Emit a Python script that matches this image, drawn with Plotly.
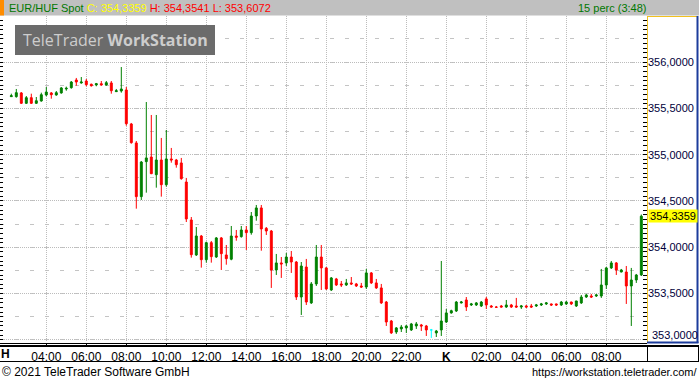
import plotly.graph_objects as go

# ---------------- data (EUR/HUF spot, 15-minute candles, Monday 02:15 -> Tuesday 09:45) -------------
bar_minutes = 15
first_bar_hour = 2.25          # Monday 02:15, hours counted from Monday 00:00

opens = [355.627, 355.627, 355.667, 355.555, 355.616, 355.555, 355.580, 355.645, 355.667, 355.645,
         355.667, 355.710, 355.724, 355.807, 355.775, 355.796, 355.761, 355.753, 355.767, 355.753,
         355.775, 355.681, 355.688, 355.699, 355.332, 355.127, 354.547, 354.925, 354.975, 354.784,
         354.943, 354.676, 354.954, 354.943, 354.911, 354.705, 354.295, 353.917, 354.122, 353.866,
         354.050, 353.895, 354.101, 353.917, 353.871, 354.122, 354.115, 354.187, 354.158, 354.338,
         354.425, 354.205, 354.176, 353.755, 353.831, 353.831, 353.895, 353.841, 353.463, 353.787,
         353.399, 353.604, 353.895, 353.777, 353.539, 353.658, 353.604, 353.593, 353.615, 353.604,
         353.582, 353.571, 353.723, 353.615, 353.561, 353.409, 353.204, 353.085, 353.118, 353.129,
         353.107, 353.150, 353.161, 353.150, 353.107, 353.075, 353.107, 353.193, 353.291, 353.312,
         353.399, 353.431, 353.377, 353.377, 353.366, 353.442, 353.366, 353.355, 353.366, 353.355,
         353.377, 353.366, 353.355, 353.366, 353.366, 353.366, 353.377, 353.388, 353.388, 353.388,
         353.377, 353.388, 353.409, 353.366, 353.399, 353.463, 353.474, 353.474, 353.474, 353.593,
         353.777, 353.831, 353.733, 353.733, 353.582, 353.647, 353.701]
highs = [355.659, 355.710, 355.677, 355.634, 355.659, 355.623, 355.670, 355.731, 355.677, 355.688,
         355.731, 355.735, 355.796, 355.829, 355.839, 355.818, 355.767, 355.775, 355.796, 355.796,
         355.796, 355.710, 355.947, 355.731, 355.343, 355.148, 354.932, 355.569, 355.429, 355.429,
         355.181, 355.267, 355.073, 354.954, 354.965, 354.749, 354.327, 354.219, 354.133, 354.061,
         354.068, 354.111, 354.111, 354.025, 354.230, 354.187, 354.230, 354.230, 354.381, 354.457,
         354.457, 354.219, 354.187, 353.928, 353.895, 353.939, 353.960, 353.852, 353.841, 353.874,
         353.625, 354.025, 354.025, 353.787, 353.679, 353.669, 353.636, 353.658, 353.679, 353.615,
         353.615, 353.766, 353.733, 353.658, 353.604, 353.420, 353.215, 353.139, 353.161, 353.161,
         353.183, 353.193, 353.172, 353.161, 353.118, 353.107, 353.852, 353.334, 353.326, 353.420,
         353.420, 353.463, 353.399, 353.409, 353.420, 353.463, 353.377, 353.366, 353.377, 353.431,
         353.388, 353.453, 353.377, 353.377, 353.388, 353.388, 353.399, 353.409, 353.392, 353.392,
         353.420, 353.420, 353.412, 353.422, 353.485, 353.496, 353.496, 353.496, 353.766, 353.787,
         353.852, 353.841, 353.766, 353.798, 353.777, 353.712, 354.3541]
lows = [355.623, 355.616, 355.548, 355.548, 355.548, 355.548, 355.573, 355.631, 355.605, 355.637,
        355.659, 355.691, 355.713, 355.745, 355.767, 355.739, 355.735, 355.739, 355.745, 355.745,
        355.659, 355.678, 355.670, 355.313, 355.119, 354.417, 354.511, 354.590, 354.790, 354.644,
        354.547, 354.655, 354.914, 354.860, 354.730, 354.273, 353.888, 353.906, 353.780, 353.834,
        353.834, 353.885, 353.755, 353.812, 353.860, 354.071, 354.104, 353.971, 354.136, 354.287,
        353.963, 354.133, 353.561, 353.701, 353.669, 353.798, 353.723, 353.431, 353.269, 353.377,
        353.388, 353.582, 353.539, 353.539, 353.528, 353.582, 353.571, 353.582, 353.593, 353.571,
        353.561, 353.550, 353.604, 353.550, 353.388, 353.150, 353.064, 353.064, 353.085, 353.075,
        353.096, 353.118, 353.096, 353.042, 353.021, 353.031, 353.042, 353.183, 353.283, 353.301,
        353.393, 353.312, 353.366, 353.366, 353.355, 353.334, 353.350, 353.345, 353.350, 353.345,
        353.345, 353.345, 353.334, 353.345, 353.345, 353.355, 353.366, 353.377, 353.366, 353.366,
        353.366, 353.377, 353.377, 353.355, 353.388, 353.453, 353.453, 353.463, 353.453, 353.550,
        353.766, 353.701, 353.730, 353.388, 353.150, 353.615, 353.690]
closes = [355.637, 355.670, 355.555, 355.616, 355.555, 355.583, 355.648, 355.677, 355.648, 355.670,
          355.721, 355.717, 355.785, 355.785, 355.785, 355.756, 355.745, 355.767, 355.753, 355.778,
          355.691, 355.691, 355.710, 355.335, 355.130, 354.547, 354.921, 354.965, 354.795, 354.943,
          354.676, 354.954, 354.943, 354.892, 354.741, 354.306, 353.920, 354.122, 353.866, 354.050,
          353.899, 354.101, 353.931, 353.877, 354.122, 354.108, 354.187, 354.158, 354.338, 354.425,
          354.198, 354.176, 353.755, 353.831, 353.820, 353.895, 353.841, 353.463, 353.798, 353.409,
          353.604, 353.895, 353.777, 353.550, 353.669, 353.593, 353.593, 353.615, 353.604, 353.582,
          353.571, 353.723, 353.615, 353.561, 353.399, 353.193, 353.075, 353.129, 353.139, 353.150,
          353.172, 353.172, 353.150, 353.107, 353.107, 353.096, 353.204, 353.291, 353.315, 353.409,
          353.409, 353.355, 353.388, 353.399, 353.409, 353.377, 353.355, 353.352, 353.355, 353.377,
          353.355, 353.355, 353.366, 353.355, 353.355, 353.377, 353.388, 353.399, 353.377, 353.377,
          353.409, 353.409, 353.388, 353.420, 353.463, 353.485, 353.463, 353.485, 353.593, 353.777,
          353.831, 353.755, 353.755, 353.582, 353.647, 353.701, 354.3359]
highlight_bars = [84]          # candle drawn in cyan by the terminal

tick_hours = [4, 6, 8, 10, 12, 14, 16, 18, 20, 22, 24, 26, 28, 30, 32]
tick_labels = ["04:00", "06:00", "08:00", "10:00", "12:00", "14:00", "16:00", "18:00",
               "20:00", "22:00", "<b>K</b>", "02:00", "04:00", "06:00", "08:00"]
price_ticks = [353.0, 353.5, 354.0, 354.5, 355.0, 355.5, 356.0]

last_price = 354.3359
title_name = "EUR/HUF Spot"
title_c = "C: 354,3359"
title_hl = "H: 354,3541 L: 353,6072"
interval_txt = "15 perc (3:48)"
first_day = "H"

# ---------------- geometry ----------------
W, H = 699, 381
ML, MR, MT, MB = 0, 52, 16, 39
PW, PH = W - ML - MR, H - MT - MB
Y_RANGE = [352.977, 356.498]
X_RANGE = [1.685, 34.035]


def PX(px):
    return (px - ML) / PW


def PY(py):
    return (H - MB - py) / PH


def fmt(v):
    return f"{v:.4f}".replace(".", ",")


n = len(opens)
hours = [first_bar_hour + i * bar_minutes / 60 for i in range(n)]
main_idx = [i for i in range(n) if i not in highlight_bars]

GREEN, RED, CYAN = "#008000", "#ff0000", "#00ffff"
FONT = "Liberation Sans, Arial, sans-serif"

fig = go.Figure()
fig.add_trace(go.Candlestick(
    x=[hours[i] for i in main_idx],
    open=[opens[i] for i in main_idx], high=[highs[i] for i in main_idx],
    low=[lows[i] for i in main_idx], close=[closes[i] for i in main_idx],
    increasing=dict(line=dict(color=GREEN, width=1), fillcolor=GREEN),
    decreasing=dict(line=dict(color=RED, width=1), fillcolor=RED),
    whiskerwidth=0, hoverinfo="skip", showlegend=False))
fig.add_trace(go.Candlestick(
    x=[hours[i] for i in highlight_bars],
    open=[opens[i] for i in highlight_bars], high=[highs[i] for i in highlight_bars],
    low=[lows[i] for i in highlight_bars], close=[closes[i] for i in highlight_bars],
    increasing=dict(line=dict(color=CYAN, width=1), fillcolor=CYAN),
    decreasing=dict(line=dict(color=CYAN, width=1), fillcolor=CYAN),
    whiskerwidth=0, hoverinfo="skip", showlegend=False))
# carriers for the tick-only overlay axes
fig.add_trace(go.Scatter(x=[None], y=[None], yaxis="y2", showlegend=False, hoverinfo="skip"))
fig.add_trace(go.Scatter(x=[None], y=[None], yaxis="y3", showlegend=False, hoverinfo="skip"))

shapes = [
    # header bar
    dict(type="rect", xref="paper", yref="paper", x0=PX(0), x1=PX(W), y0=PY(15.5), y1=PY(0),
         fillcolor="#c0c0c0", line=dict(width=0), layer="above"),
    dict(type="rect", xref="paper", yref="paper", x0=PX(0), x1=PX(4), y0=PY(15.5), y1=PY(0),
         fillcolor="#ff8c00", line=dict(width=0), layer="above"),
    # watermark box
    dict(type="rect", xref="paper", yref="paper", x0=PX(15), x1=PX(215), y0=PY(55), y1=PY(25),
         fillcolor="#6b6b6b", line=dict(width=0), layer="above"),
    # price panel frame
    dict(type="line", xref="paper", yref="paper", x0=PX(647.5), x1=PX(647.5), y0=PY(342), y1=PY(16),
         line=dict(color="#f0c020", width=1)),
    dict(type="line", xref="paper", yref="paper", x0=PX(647), x1=PX(697), y0=PY(16.5), y1=PY(16.5),
         line=dict(color="#f0c020", width=1)),
    dict(type="line", xref="paper", yref="paper", x0=PX(697.5), x1=PX(697.5), y0=PY(343), y1=PY(16),
         line=dict(color="#1c3c9c", width=2)),
    dict(type="line", xref="paper", yref="paper", x0=PX(647), x1=PX(698.5), y0=PY(342.5), y1=PY(342.5),
         line=dict(color="#1c3c9c", width=2)),
    # time axis frame
    dict(type="line", xref="paper", yref="paper", x0=PX(0), x1=PX(647), y0=PY(343.5), y1=PY(343.5),
         line=dict(color="black", width=1)),
    dict(type="line", xref="paper", yref="paper", x0=PX(0), x1=PX(W), y0=PY(346), y1=PY(346),
         line=dict(color="black", width=2)),
    dict(type="line", xref="paper", yref="paper", x0=PX(0), x1=PX(W), y0=PY(361.5), y1=PY(361.5),
         line=dict(color="black", width=1)),
    dict(type="line", xref="paper", yref="paper", x0=PX(647.5), x1=PX(647.5), y0=PY(362), y1=PY(346),
         line=dict(color="black", width=1)),
    dict(type="line", xref="paper", yref="paper", x0=PX(698.5), x1=PX(698.5), y0=PY(362), y1=PY(346),
         line=dict(color="black", width=1)),
]

annotations = [
    dict(xref="paper", yref="paper", x=PX(7), y=PY(8), xanchor="left", yanchor="middle",
         showarrow=False, font=dict(family=FONT, size=11),
         text=(f'<span style="color:#007800">{title_name}</span> '
               f'<span style="color:#ffff00">{title_c}</span> '
               f'<span style="color:#ff0000">{title_hl}</span>')),
    dict(xref="paper", yref="paper", x=PX(648), y=PY(8), xanchor="right", yanchor="middle",
         showarrow=False, font=dict(family=FONT, size=11, color="#007800"), text=interval_txt),
    dict(xref="paper", yref="paper", x=PX(115), y=PY(40), xanchor="center", yanchor="middle",
         showarrow=False, font=dict(family="Open Sans, sans-serif", size=16, color="#cdcdcd"),
         text="TeleTrader <b>WorkStation</b>"),
    dict(xref="paper", yref="y", x=PX(648), y=last_price, xanchor="left", yanchor="middle",
         showarrow=False, font=dict(family=FONT, size=11, color="black"),
         text=fmt(last_price), bgcolor="#ffff00", borderpad=0, width=48, align="center"),
    # lowest price label sits just above the panel edge
    dict(xref="paper", yref="paper", x=PX(650), y=PY(335), xanchor="left", yanchor="middle",
         showarrow=False, font=dict(family=FONT, size=11, color="#00003a"), text=fmt(price_ticks[0])),
    dict(xref="paper", yref="paper", x=PX(5), y=PY(354), xanchor="center", yanchor="middle",
         showarrow=False, font=dict(family=FONT, size=12, color="black"), text=f"<b>{first_day}</b>"),
    dict(xref="paper", yref="paper", x=PX(0), y=PY(372), xanchor="left", yanchor="middle",
         showarrow=False, font=dict(family=FONT, size=12, color="black"),
         text="© 2021 TeleTrader Software GmbH"),
    dict(xref="paper", yref="paper", x=PX(699), y=PY(372), xanchor="right", yanchor="middle",
         showarrow=False, font=dict(family=FONT, size=11, color="black"),
         text="https://workstation.teletrader.com/"),
]

tick_axis = dict(range=Y_RANGE, tick0=353, dtick=0.05, ticks="inside", tickcolor="black",
                 tickwidth=1, showticklabels=False, showgrid=False, zeroline=False,
                 showline=False, fixedrange=True)

fig.update_layout(
    width=W, height=H, margin=dict(l=ML, r=MR, t=MT, b=MB, pad=0),
    paper_bgcolor="white", plot_bgcolor="white", showlegend=False,
    boxgap=0.45,
    font=dict(family=FONT, size=11, color="black"),
    xaxis=dict(range=X_RANGE, tickmode="array", tickvals=tick_hours, ticktext=tick_labels,
               showgrid=True, gridcolor="#bcbcbc", griddash="1px,1px", gridwidth=1,
               zeroline=False, showline=False, ticks="outside", ticklen=4, tickcolor="black",
               tickfont=dict(size=12, color="black"), rangeslider=dict(visible=False),
               fixedrange=True),
    yaxis=dict(side="right", range=Y_RANGE, tickmode="array", tickvals=price_ticks,
               ticktext=[""] + [fmt(v) for v in price_ticks[1:]],
               showgrid=True, gridcolor="#bcbcbc", griddash="1px,1px", gridwidth=1,
               zeroline=False, ticks="", showline=False,
               tickfont=dict(size=11, color="#00003a"), fixedrange=True,
               minor=dict(tickmode="linear", tick0=353, dtick=0.25, showgrid=True,
                          gridcolor="#c4c4c4", griddash="4px,11px", ticks="")),
    yaxis2=dict(overlaying="y", side="right", ticklen=4, **tick_axis),
    yaxis3=dict(overlaying="y", side="left", ticklen=3, **tick_axis),
    shapes=shapes, annotations=annotations,
)

fig.write_html("out.html")
